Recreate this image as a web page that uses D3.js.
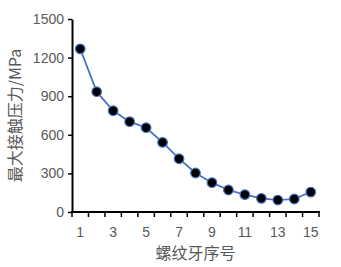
<!DOCTYPE html>
<html>
<head>
<meta charset="utf-8">
<script src="https://cdn.jsdelivr.net/npm/d3@7"></script>
<style>
  body { margin: 0; background: #fff; }
  text { font-family: "Liberation Sans", Arial, sans-serif; }
</style>
</head>
<body>
<svg id="chart"></svg>
<script>
const threads = [1, 2, 3, 4, 5, 6, 7, 8, 9, 10, 11, 12, 13, 14, 15];
const pressure = [1268, 935, 787, 702, 655, 541, 414, 303, 228, 171, 135, 106, 93, 101, 155];
const yTicks = [0, 300, 600, 900, 1200, 1500];
const xLabels = [1, 3, 5, 7, 9, 11, 13, 15];

const width = 341, height = 267;
const mLeft = 72, mRight = 319, mTop = 19, mBottom = 212;

const svg = d3.select("#chart").attr("width", width).attr("height", height);

const x = d3.scaleBand().domain(threads).range([mLeft, mRight]);
const y = d3.scaleLinear().domain([0, 1500]).range([mBottom, mTop]);

// y axis
const yAxis = svg.append("g")
  .attr("transform", `translate(${mLeft},0)`)
  .call(d3.axisLeft(y).tickValues(yTicks).tickFormat(d3.format("d"))
    .tickSize(4).tickPadding(4).tickSizeOuter(0));
yAxis.select(".domain").attr("stroke", "#000").attr("stroke-width", 2);
yAxis.selectAll(".tick line").attr("stroke", "#000").attr("stroke-width", 1.5);
yAxis.selectAll(".tick text").attr("fill", "#595959").style("font-size", "14px");

// x axis: tick marks at category boundaries
const xAxisG = svg.append("g").attr("transform", `translate(0,${mBottom})`);
xAxisG.append("line")
  .attr("x1", mLeft - 1).attr("x2", mRight + 1)
  .attr("stroke", "#000").attr("stroke-width", 2);
const bounds = threads.map(d => x(d)).concat([x(threads[threads.length - 1]) + x.bandwidth()]);
xAxisG.selectAll(".xt").data(bounds).enter().append("line")
  .attr("x1", d => d).attr("x2", d => d)
  .attr("y1", 0).attr("y2", 5)
  .attr("stroke", "#000").attr("stroke-width", 1.5);
xAxisG.selectAll(".xl").data(xLabels).enter().append("text")
  .attr("x", d => x(d) + x.bandwidth() / 2)
  .attr("y", 20)
  .attr("dy", "0.35em")
  .attr("text-anchor", "middle")
  .attr("fill", "#595959")
  .style("font-size", "14px")
  .text(d => d);

// line
const line = d3.line()
  .x((d, i) => x(threads[i]) + x.bandwidth() / 2)
  .y(d => y(d));
svg.append("path")
  .datum(pressure)
  .attr("d", line)
  .attr("fill", "none")
  .attr("stroke", "#4472C4")
  .attr("stroke-width", 1.75);

svg.selectAll(".pt").data(pressure).enter().append("circle")
  .attr("cx", (d, i) => x(threads[i]) + x.bandwidth() / 2)
  .attr("cy", d => y(d))
  .attr("r", 4.8)
  .attr("fill", "#000")
  .attr("stroke", "#4472C4")
  .attr("stroke-width", 1.2);

// titles
svg.append("text")
  .attr("transform", `translate(15,${(mTop + mBottom) / 2}) rotate(-90)`)
  .attr("text-anchor", "middle")
  .attr("dy", "0.35em")
  .attr("fill", "#595959")
  .style("font-size", "16px")
  .style("font-family", "'Noto Sans CJK SC', sans-serif")
  .text("最大接触压力/MPa");

svg.append("text")
  .attr("x", (mLeft + mRight) / 2)
  .attr("y", 253)
  .attr("dy", "0.35em")
  .attr("text-anchor", "middle")
  .attr("fill", "#595959")
  .style("font-size", "16px")
  .style("font-family", "'Noto Sans CJK SC', sans-serif")
  .text("螺纹牙序号");
</script>
</body>
</html>
